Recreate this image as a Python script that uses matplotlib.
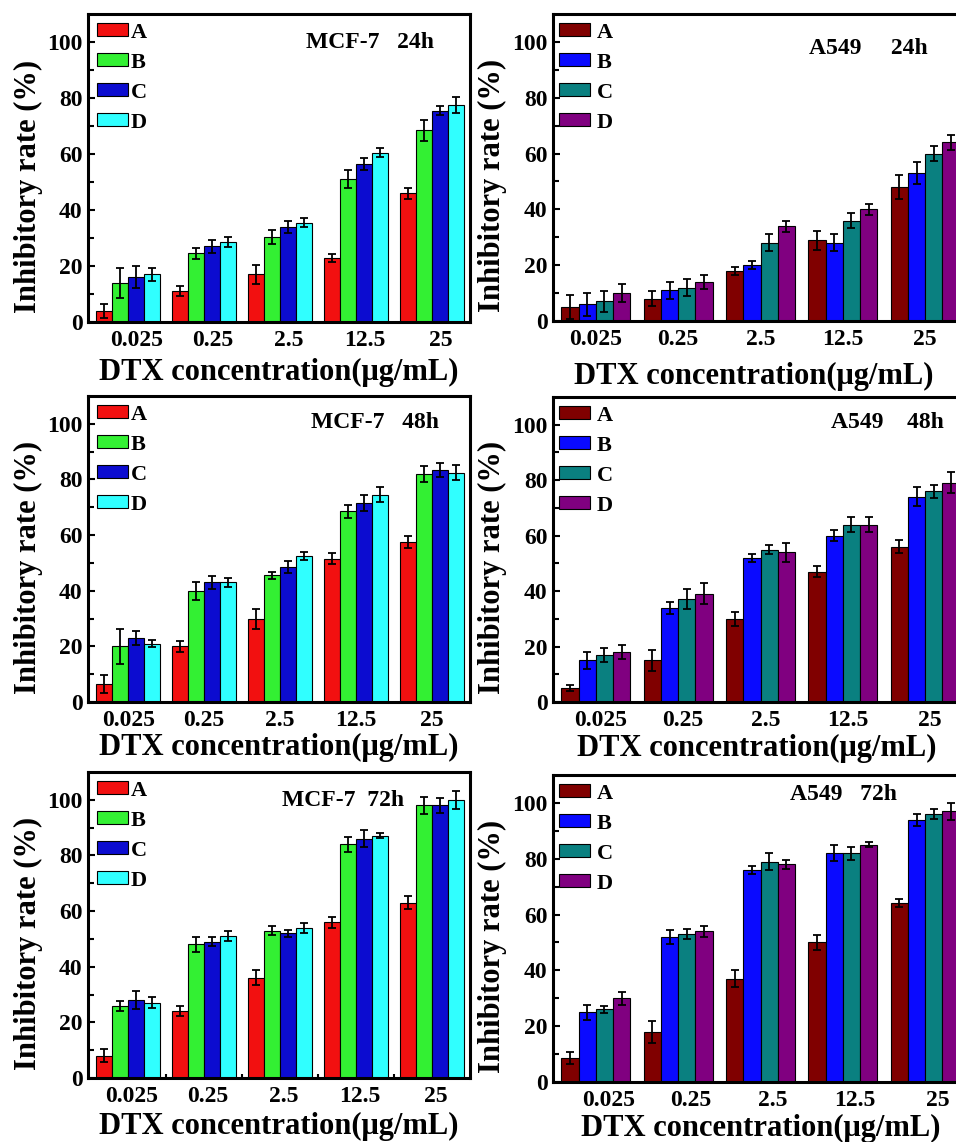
import matplotlib
matplotlib.use('Agg')
import matplotlib.pyplot as plt
import numpy as np

plt.rcParams['font.family'] = ['Liberation Serif', 'DejaVu Serif']
plt.rcParams['font.weight'] = 'bold'
plt.rcParams['axes.labelweight'] = 'bold'

concentrations = ['0.025', '0.25', '2.5', '12.5', '25']
groups = ['A', 'B', 'C', 'D']

# inhibitory rate (%), one row per group A-D, one column per concentration
mcf7_24h = [[4, 11, 17, 23, 46],
            [14, 24.5, 30.5, 51, 68.5],
            [16, 27, 34, 56.5, 75.5],
            [17, 28.5, 35.5, 60.5, 77.5]]
mcf7_24h_err = [[2.4, 1.7, 3.5, 1.4, 2.0],
                [5.4, 2.0, 2.5, 3.2, 3.8],
                [4.0, 2.3, 2.2, 2.2, 1.5],
                [2.3, 1.8, 1.5, 1.5, 2.7]]

a549_24h = [[5, 8, 18, 29, 48],
            [6, 11, 20, 28, 53],
            [7, 12, 28, 36, 60],
            [10, 14, 34, 40, 64]]
a549_24h_err = [[4.2, 2.6, 1.5, 3.4, 4.3],
                [4.2, 3.0, 1.5, 3.0, 3.8],
                [3.7, 3.2, 3.0, 2.8, 2.6],
                [3.2, 2.6, 2.0, 1.9, 2.8]]

mcf7_48h = [[6.5, 20, 30, 51.5, 57.5],
            [20, 40, 45.5, 68.5, 82],
            [23, 43, 48.5, 71.5, 83.5],
            [21, 43, 52.5, 74.5, 82.5]]
mcf7_48h_err = [[3.2, 2.0, 3.6, 2.0, 2.1],
                [6.2, 3.2, 1.2, 2.2, 2.9],
                [2.5, 2.3, 2.1, 3.0, 2.5],
                [1.4, 1.7, 1.5, 2.7, 2.8]]

a549_48h = [[5, 15, 30, 47, 56],
            [15, 34, 52, 60, 74],
            [17, 37, 55, 64, 76],
            [18, 39, 54, 64, 79]]
a549_48h_err = [[1.2, 3.8, 2.6, 2.0, 2.4],
                [3.2, 2.2, 1.4, 2.1, 3.4],
                [2.4, 3.6, 1.8, 2.8, 2.4],
                [2.4, 3.8, 3.4, 2.8, 3.8]]

mcf7_72h = [[8, 24, 36, 56, 63],
            [26, 48, 53, 84, 98],
            [28, 49, 52, 86, 98],
            [27, 51, 54, 87, 100]]
mcf7_72h_err = [[2.3, 1.8, 2.7, 2.0, 2.4],
                [1.8, 2.7, 1.5, 2.7, 3.1],
                [3.3, 1.6, 1.3, 3.1, 2.7],
                [2.0, 1.9, 1.7, 0.9, 3.2]]

a549_72h = [[8.5, 18, 37, 50, 64],
            [25, 52, 76, 82, 94],
            [26, 53, 79, 82, 96],
            [30, 54, 78, 85, 97]]
a549_72h_err = [[2.2, 4.0, 3.0, 2.8, 1.4],
                [2.7, 2.4, 1.4, 2.8, 2.1],
                [1.3, 1.9, 3.2, 2.3, 1.8],
                [2.3, 2.0, 1.6, 0.9, 3.0]]

mcf7_colors = ['#f21010', '#33f033', '#0c0cd0', '#30ffff']
a549_colors = ['#800000', '#0a0aff', '#0a8080', '#800080']

W, H = 956, 1142
fig = plt.figure(figsize=(W / 100, H / 100), dpi=100)


def add_axes_px(left, top, width, bottom):
    return fig.add_axes([left / W, 1 - bottom / H, width / W, (bottom - top) / H])


def draw_panel(ax, means, errs, colors, title, title_xy, xlim, tick_shift,
               legend_x, text_pad, xlabel_xy, ylabel_x, minor_x=False):
    x = np.arange(len(concentrations))
    w = 0.21
    for i, g in enumerate(groups):
        pos = x + (i - 1.5) * w
        ax.bar(pos, means[i], width=w, color=colors[i], edgecolor='black',
               linewidth=0.8, label=g, zorder=2)
        ax.errorbar(pos, means[i], yerr=errs[i], fmt='none', ecolor='black',
                    elinewidth=1.3, capsize=3, capthick=1.3, zorder=3)
    ax.set_xlim(*xlim)
    ax.set_ylim(0, 110)
    ax.set_yticks(np.arange(0, 101, 20))
    ax.set_yticks(np.arange(10, 100, 20), minor=True)
    ax.set_xticks(x + tick_shift)
    ax.set_xticklabels(concentrations)
    if minor_x:
        ax.set_xticks(x[:-1] + 0.5, minor=True)
        ax.tick_params(axis='x', which='minor', direction='in', length=3,
                       width=1.5, bottom=True)
    else:
        ax.tick_params(axis='x', which='minor', bottom=False)
    ax.tick_params(axis='x', which='major', length=0, pad=6, labelsize=17)
    ax.tick_params(axis='y', which='major', direction='in', length=5,
                   width=1.5, pad=4, labelsize=17)
    ax.tick_params(axis='y', which='minor', direction='in', length=4, width=1.5)
    for s in ax.spines.values():
        s.set_linewidth(2.2)

    ax.set_xlabel('DTX concentration(\u03bcg/mL)', fontsize=22)
    ax.xaxis.set_label_coords(*xlabel_xy)
    ax.xaxis.label.set_verticalalignment('center')
    ax.set_ylabel('Inhibitory rate (%)', fontsize=22)
    ax.yaxis.set_label_coords(ylabel_x, 0.44)
    ax.yaxis.label.set_verticalalignment('center')
    ax.yaxis.label.set_horizontalalignment('center')

    ax.text(title_xy[0], title_xy[1], title, transform=ax.transAxes,
            ha='center', va='center', fontsize=17)
    ax.legend(loc='upper left', bbox_to_anchor=(legend_x, 0.972),
              frameon=False, fontsize=16, handlelength=1.4, handleheight=0.55,
              handletextpad=text_pad, labelspacing=0.45, borderpad=0,
              borderaxespad=0)


left_xlim = (-0.53, 4.5)
right_xlim = (-0.52, 4.52)

ax1 = add_axes_px(88, 14, 382, 322)
draw_panel(ax1, mcf7_24h, mcf7_24h_err, mcf7_colors, 'MCF-7   24h',
           (0.738, 0.906), left_xlim, 0.11, 0.024, 0.1, (0.5, -0.165), -0.157)

ax2 = add_axes_px(553, 14, 415, 321)
draw_panel(ax2, a549_24h, a549_24h_err, a549_colors, 'A549     24h',
           (0.761, 0.889), right_xlim, 0.0, 0.015, 0.3, (0.484, -0.182), -0.145)

ax3 = add_axes_px(88, 396, 382, 702)
draw_panel(ax3, mcf7_48h, mcf7_48h_err, mcf7_colors, 'MCF-7   48h',
           (0.751, 0.912), left_xlim, 0.0, 0.024, 0.1, (0.5, -0.150), -0.157)

ax4 = add_axes_px(553, 397, 415, 702)
draw_panel(ax4, a549_48h, a549_48h_err, a549_colors, 'A549    48h',
           (0.805, 0.915), right_xlim, 0.06, 0.015, 0.3, (0.49, -0.151), -0.145)

ax5 = add_axes_px(88, 772, 382, 1078)
draw_panel(ax5, mcf7_72h, mcf7_72h_err, mcf7_colors, 'MCF-7  72h',
           (0.668, 0.908), left_xlim, 0.05, 0.024, 0.1, (0.5, -0.160), -0.157,
           minor_x=True)

ax6 = add_axes_px(553, 775, 415, 1082)
draw_panel(ax6, a549_72h, a549_72h_err, a549_colors, 'A549   72h',
           (0.70, 0.935), right_xlim, 0.15, 0.015, 0.3, (0.5, -0.150), -0.145)

fig.savefig('out.png', dpi=100)
